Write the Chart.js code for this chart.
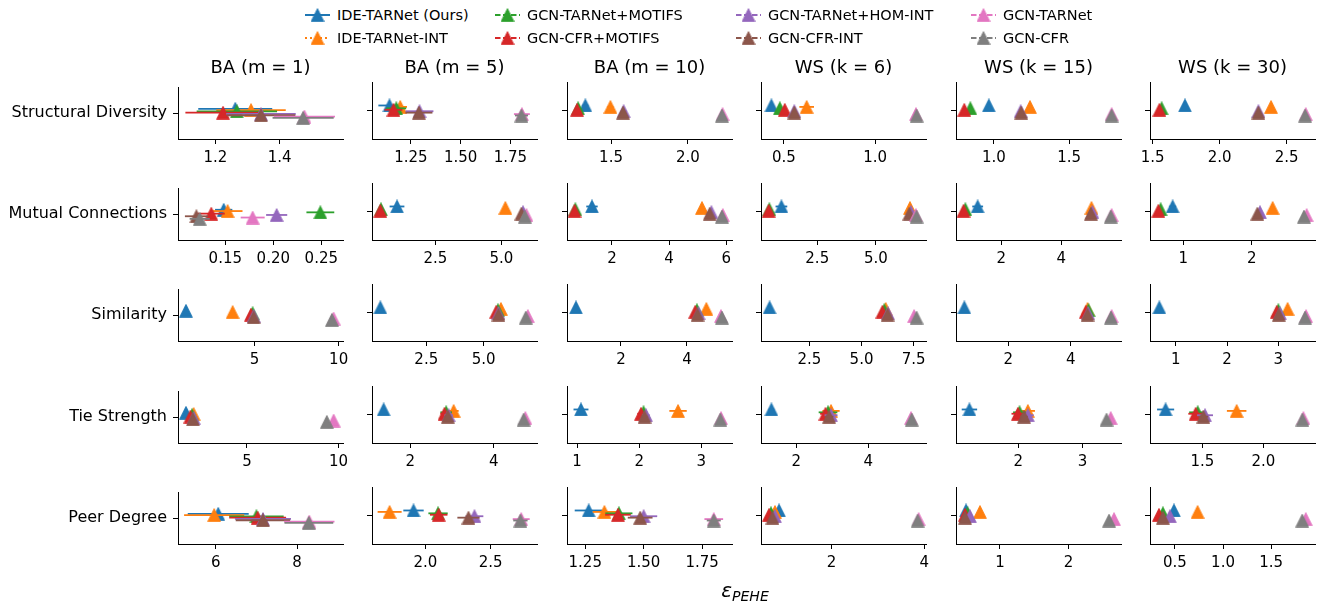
<!DOCTYPE html>
<html><head><meta charset="utf-8">
<script src="https://cdn.jsdelivr.net/npm/chart.js@4.4.1/dist/chart.umd.min.js"></script>
<style>
html,body{margin:0;padding:0;background:#fff;}
#wrap{position:relative;width:1323px;height:606px;overflow:hidden;background:#fff;font-family:"DejaVu Sans";}
#wrap canvas{position:absolute;}
.title{position:absolute;width:220px;text-align:center;font-size:18px;line-height:18px;color:#000;white-space:nowrap;}
.legtxt{position:absolute;font-size:14.5px;line-height:16px;color:#000;white-space:nowrap;}
.xlab{position:absolute;width:200px;text-align:center;color:#000;white-space:nowrap;font-size:20px;line-height:22px;}
</style></head><body><div id="wrap"></div>
<script>
// ---------------- data ----------------
const seriesNames = ['IDE-TARNet (Ours)','IDE-TARNet-INT','GCN-TARNet+MOTIFS','GCN-CFR+MOTIFS','GCN-TARNet+HOM-INT','GCN-CFR-INT','GCN-TARNet','GCN-CFR'];
const seriesColors = ['#1f77b4','#ff7f0e','#2ca02c','#d62728','#9467bd','#8c564b','#e377c2','#7f7f7f'];
const seriesDash = [[], [2,3], [5.5,2.5], [5.5,2.5], [5.5,2.5], [5.5,2.5], [5.5,2.5], [5.5,2.5]];
const graphNames = ['BA (m = 1)','BA (m = 5)','BA (m = 10)','WS (k = 6)','WS (k = 15)','WS (k = 30)'];
const metricNames = ['Structural Diversity','Mutual Connections','Similarity','Tie Strength','Peer Degree'];
// vertical dodge of each series inside a row (category units)
const dodge = [0.088, 0.063, 0.038, 0.013, -0.013, -0.038, -0.063, -0.088];

// Structural Diversity: per graph, values in series order
const structuralMean = [
  [1.262,1.311,1.267,1.224,1.342,1.342,1.477,1.473],
  [1.142,1.196,1.176,1.162,1.293,1.290,1.808,1.806],
  [1.333,1.496,1.286,1.279,1.582,1.578,2.225,2.221],
  [0.432,0.625,0.478,0.505,0.557,0.557,1.223,1.227],
  [0.967,1.240,0.844,0.804,1.178,1.182,1.782,1.782],
  [1.741,2.383,1.567,1.550,2.289,2.289,2.642,2.637]];
const structuralErr = [
  [0.115,0.108,0.125,0.117,0.108,0.107,0.095,0.095],
  [0.056,0.034,0.050,0.045,0.070,0.068,0.040,0.033],
  [0.020,0.020,0.015,0.015,0.020,0.020,0.010,0.010],
  [0.010,0.040,0.010,0.010,0.012,0.010,0.005,0.005],
  [0.010,0.010,0.010,0.010,0.010,0.010,0.005,0.005],
  [0.010,0.015,0.010,0.010,0.010,0.010,0.005,0.005]];
const structuralRange = [[1.084,1.597],[1.054,1.884],[1.214,2.286],[0.375,1.278],[0.749,1.844],[1.48,2.711]];
const structuralTicks = [['1.2','1.4'],['1.25','1.50','1.75'],['1.5','2.0'],['0.5','1.0'],['1.0','1.5'],['1.5','2.0','2.5']];

// Mutual Connections
const mutualMean = [
  [0.1483,0.1524,0.2490,0.1354,0.2035,0.1199,0.1785,0.1233],
  [1.047,5.15,0.44,0.415,5.82,5.76,5.95,5.89],
  [1.30,5.15,0.717,0.69,5.48,5.42,5.88,5.85],
  [0.971,6.457,0.457,0.43,6.50,6.43,6.71,6.74],
  [1.22,5.00,0.81,0.75,5.03,4.98,5.67,5.64],
  [0.844,2.307,0.668,0.634,2.122,2.083,2.805,2.766]];
const mutualErr = [
  [0.009,0.0155,0.0145,0.014,0.011,0.012,0.0125,0.0105],
  [0.28,0.05,0.05,0.05,0.05,0.05,0.03,0.03],
  [0.20,0.05,0.05,0.05,0.05,0.05,0.03,0.03],
  [0.25,0.05,0.05,0.05,0.05,0.05,0.03,0.03],
  [0.18,0.05,0.05,0.05,0.05,0.05,0.03,0.03],
  [0.05,0.03,0.03,0.03,0.03,0.03,0.02,0.02]];
const mutualRange = [[0.1007,0.2726],[0.1,6.35],[0.426,6.2],[0.1,7.14],[0.5,5.98],[0.512,2.927]];
const mutualTicks = [['0.15','0.20','0.25'],['2.5','5.0'],['2','4','6'],['2.5','5.0'],['2','4'],['1','2']];

// Similarity
const similarityMean = [
  [0.913,3.69,4.88,4.78,4.94,4.94,9.70,9.60],
  [0.494,5.756,5.625,5.55,5.65,5.65,6.93,6.84],
  [0.636,4.586,4.30,4.25,4.35,4.32,5.03,5.06],
  [0.59,6.16,6.09,6.00,6.27,6.25,7.52,7.64],
  [0.599,4.535,4.567,4.48,4.556,4.535,5.305,5.283],
  [0.682,3.18,3.00,2.97,3.03,3.01,3.54,3.52]];
const similarityErr = [
  [0.08,0.08,0.08,0.08,0.08,0.08,0.05,0.05],
  [0.06,0.06,0.06,0.06,0.06,0.06,0.04,0.04],
  [0.04,0.04,0.04,0.04,0.04,0.04,0.03,0.03],
  [0.06,0.06,0.06,0.06,0.06,0.06,0.04,0.04],
  [0.04,0.04,0.04,0.04,0.04,0.04,0.03,0.03],
  [0.03,0.03,0.03,0.03,0.03,0.03,0.02,0.02]];
const similarityRange = [[0.437,10.26],[0.131,7.33],[0.364,5.364],[0.179,8.09],[0.332,5.604],[0.5,3.714]];
const similarityTicks = [['5','10'],['2.5','5.0'],['2','4'],['2.5','5.0','7.5'],['2','4'],['1','2','3']];

// Tie Strength
const tieMean = [
  [1.67,2.09,2.00,1.91,2.09,2.05,9.73,9.36],
  [1.36,3.04,2.86,2.82,2.92,2.90,4.76,4.72],
  [1.064,2.625,2.07,2.03,2.11,2.086,3.317,3.306],
  [1.306,2.964,2.88,2.81,2.964,2.91,5.19,5.21],
  [1.24,2.15,2.02,1.995,2.15,2.09,3.44,3.375],
  [1.199,1.781,1.462,1.445,1.522,1.508,2.328,2.32]];
const tieErr = [
  [0.06,0.06,0.06,0.06,0.06,0.06,0.04,0.04],
  [0.05,0.12,0.14,0.10,0.10,0.08,0.04,0.04],
  [0.12,0.14,0.06,0.06,0.06,0.05,0.03,0.03],
  [0.08,0.24,0.26,0.15,0.18,0.12,0.05,0.05],
  [0.12,0.11,0.10,0.10,0.09,0.06,0.03,0.03],
  [0.07,0.08,0.07,0.06,0.065,0.04,0.02,0.02]];
const tieRange = [[1.236,10.24],[1.08,5.04],[0.839,3.493],[1.016,5.606],[1.031,3.6],[1.071,2.423]];
const tieTicks = [['5','10'],['2','4'],['1','2','3'],['2','4'],['2','3'],['1.5','2.0']];

// Peer Degree
const peerMean = [
  [6.06,5.96,7.00,7.03,7.16,7.16,8.30,8.29],
  [1.909,1.726,2.097,2.102,2.376,2.33,2.734,2.728],
  [1.265,1.332,1.394,1.39,1.50,1.485,1.80,1.80],
  [0.865,0.778,0.692,0.649,0.778,0.724,3.881,3.86],
  [0.504,0.708,0.526,0.489,0.562,0.489,2.664,2.591],
  [0.49,0.736,0.375,0.334,0.448,0.375,1.86,1.823]];
const peerErr = [
  [0.75,0.74,0.67,0.70,0.69,0.67,0.62,0.60],
  [0.078,0.092,0.074,0.067,0.068,0.085,0.065,0.055],
  [0.060,0.050,0.058,0.055,0.058,0.053,0.040,0.030],
  [0.03,0.03,0.03,0.03,0.03,0.03,0.02,0.02],
  [0.02,0.02,0.02,0.02,0.02,0.02,0.01,0.01],
  [0.02,0.02,0.02,0.02,0.02,0.02,0.01,0.01]];
const peerRange = [[5.07,9.13],[1.591,2.855],[1.172,1.878],[0.476,4.04],[0.358,2.766],[0.241,1.956]];
const peerTicks = [['6','8'],['2.0','2.5'],['1.25','1.50','1.75'],['2','4'],['1','2'],['0.5','1.0','1.5']];

// ---------------- layout ----------------
const rows = [
  {mean: structuralMean, err: structuralErr, range: structuralRange, ticks: structuralTicks},
  {mean: mutualMean, err: mutualErr, range: mutualRange, ticks: mutualTicks},
  {mean: similarityMean, err: similarityErr, range: similarityRange, ticks: similarityTicks},
  {mean: tieMean, err: tieErr, range: tieRange, ticks: tieTicks},
  {mean: peerMean, err: peerErr, range: peerRange, ticks: peerTicks}];

const AX_LEFT0 = 177.7, COL_STEP = 194.45, AX_W = 165;
const AX_TOP0 = 81.7, ROW_STEP = 101.3, AX_H = 57;
const FONT = 'DejaVu Sans';
Chart.defaults.font.family = FONT;
const wrap = document.getElementById('wrap');

function markerImage(color) {
  const c = document.createElement('canvas');
  c.width = 14; c.height = 14;
  const g = c.getContext('2d');
  g.beginPath(); g.moveTo(7, 0.6); g.lineTo(13.4, 13.4); g.lineTo(0.6, 13.4); g.closePath();
  g.fillStyle = color; g.fill();
  g.lineWidth = 0.8; g.strokeStyle = color; g.stroke();
  return c;
}
const markers = seriesColors.map(markerImage);

function makeChart(r, c) {
  const axL = Math.round(AX_LEFT0 + COL_STEP * c);
  const axT = Math.round(AX_TOP0 + ROW_STEP * r);
  const yW = c === 0 ? axL : 40;
  const padTop = 10, padRight = 30, xH = 40;
  const W = yW + AX_W + padRight, H = padTop + AX_H + xH;
  const cv = document.createElement('canvas');
  cv.width = W; cv.height = H;
  cv.style.left = (axL - yW) + 'px'; cv.style.top = (axT - padTop) + 'px';
  cv.style.width = W + 'px'; cv.style.height = H + 'px';
  wrap.appendChild(cv);
  const d = rows[r];
  const datasets = [];
  for (let i = 0; i < 8; i++) {
    const m = d.mean[c][i], e = d.err[c][i], y = dodge[i];
    datasets.push({type: 'line', label: seriesNames[i] + ' CI', data: [{x: m - e, y}, {x: m + e, y}],
      borderColor: seriesColors[i], borderWidth: 1.8, pointRadius: 0, pointHoverRadius: 0,
      fill: false, order: 2 * (7 - i) + 1, clip: false});
    datasets.push({type: 'scatter', label: seriesNames[i], data: [{x: m, y}],
      pointStyle: markers[i], pointRadius: 7, backgroundColor: seriesColors[i], borderColor: seriesColors[i],
      order: 2 * (7 - i), clip: false});
  }
  const gridOpt = {drawOnChartArea: false, drawTicks: true, tickLength: 5, color: '#000', lineWidth: 1};
  const borderOpt = {display: true, color: '#000', width: 1};
  new Chart(cv, {
    type: 'scatter',
    data: {datasets},
    options: {
      responsive: false, animation: false, devicePixelRatio: 1, events: [],
      layout: {padding: {top: padTop, right: padRight, left: 0, bottom: 0}},
      plugins: {legend: {display: false}, tooltip: {enabled: false}, title: {display: false}},
      scales: {
        x: {type: 'linear', bounds: 'data', min: d.range[c][0], max: d.range[c][1],
          afterBuildTicks: s => { s.ticks = d.ticks[c].map(t => ({value: parseFloat(t)})); },
          afterFit: s => { s.height = xH; },
          ticks: {callback: (v, idx) => d.ticks[c][idx], color: '#000', font: {family: FONT, size: 15},
            padding: 5, maxRotation: 0, minRotation: 0, autoSkip: false},
          grid: gridOpt, border: borderOpt},
        y: {type: 'linear', bounds: 'data', min: -0.5, max: 0.5,
          afterBuildTicks: s => { s.ticks = [{value: 0}]; },
          afterFit: s => { s.width = yW; },
          ticks: {display: c === 0, callback: () => metricNames[r], color: '#000',
            font: {family: FONT, size: 16}, padding: 6},
          grid: gridOpt, border: borderOpt}
      }
    }
  });
}

for (let r = 0; r < 5; r++) for (let c = 0; c < 6; c++) makeChart(r, c);

// column titles
for (let c = 0; c < 6; c++) {
  const cx = Math.round(AX_LEFT0 + COL_STEP * c) + AX_W / 2;
  const t = document.createElement('div');
  t.className = 'title'; t.textContent = graphNames[c];
  t.style.left = (cx - 110) + 'px'; t.style.top = (66.7 - 9) + 'px';
  wrap.appendChild(t);
}

// legend (4 columns, column-major like the original)
const legTextX = [337, 527, 768, 1003];
const legRowY = [15, 38];
for (let i = 0; i < 8; i++) {
  const col = Math.floor(i / 2), row = i % 2;
  const tx = legTextX[col], cy = legRowY[row];
  const ic = document.createElement('canvas');
  ic.width = 26; ic.height = 16;
  ic.style.left = (tx - 32) + 'px'; ic.style.top = (cy - 8) + 'px';
  const g = ic.getContext('2d');
  g.strokeStyle = seriesColors[i]; g.lineWidth = 2; g.setLineDash(seriesDash[i]);
  g.beginPath(); g.moveTo(0, 8); g.lineTo(25, 8); g.stroke();
  g.drawImage(markers[i], 12.5 - 7, 8 - 7);
  wrap.appendChild(ic);
  const t = document.createElement('div');
  t.className = 'legtxt'; t.textContent = seriesNames[i];
  t.style.left = tx + 'px'; t.style.top = (cy - 8) + 'px';
  wrap.appendChild(t);
}

// x-axis label
const xl = document.createElement('div');
xl.className = 'xlab';
xl.innerHTML = '<i>ε</i><sub style="font-size:14px;vertical-align:-4px"><i>PEHE</i></sub>';
xl.style.left = (745 - 100) + 'px'; xl.style.top = (590 - 11) + 'px';
wrap.appendChild(xl);
</script>
</body></html>
